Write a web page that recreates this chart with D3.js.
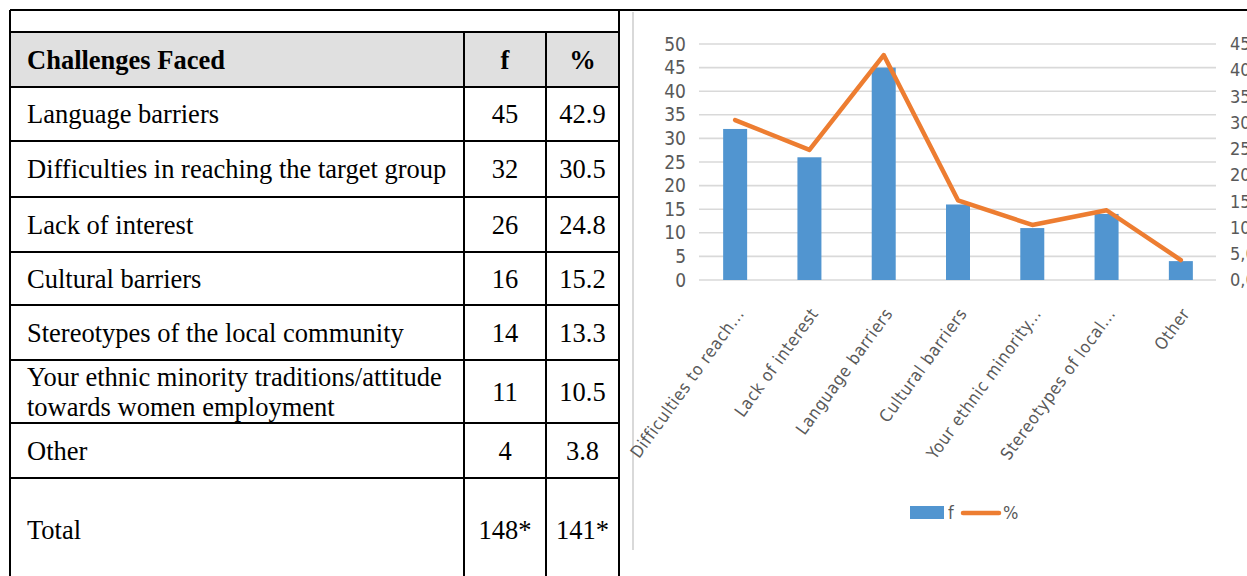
<!DOCTYPE html>
<html>
<head>
<meta charset="utf-8">
<script src="https://cdn.jsdelivr.net/npm/d3@7"></script>
<style>
  html, body { margin: 0; padding: 0; background: #fff; }
  svg { display: block; }
</style>
</head>
<body>
<svg id="root" width="1247" height="576"></svg>
<script>
// ---------- DATA ----------
const tableHeader = ["Challenges Faced", "f", "%"];
const tableLabels = [
  ["Language barriers"],
  ["Difficulties in reaching the target group"],
  ["Lack of interest"],
  ["Cultural barriers"],
  ["Stereotypes of the local community"],
  ["Your ethnic minority traditions/attitude", "towards women employment"],
  ["Other"],
  ["Total"]
];
const tableF = ["45", "32", "26", "16", "14", "11", "4", "148*"];
const tablePct = ["42.9", "30.5", "24.8", "15.2", "13.3", "10.5", "3.8", "141*"];

const categories = [
  "Difficulties to reach...",
  "Lack of interest",
  "Language barriers",
  "Cultural barriers",
  "Your ethnic minority...",
  "Stereotypes of local...",
  "Other"
];
const fValues = [32, 26, 45, 16, 11, 14, 4];
const pctValues = [30.5, 24.8, 42.9, 15.2, 10.5, 13.3, 3.8];
const leftTicks = [0, 5, 10, 15, 20, 25, 30, 35, 40, 45, 50];
const rightTicks = [0, 5, 10, 15, 20, 25, 30, 35, 40, 45];
const rightTickLabels = ["0,0", "5,0", "10,0", "15,0", "20,0", "25,0", "30,0", "35,0", "40,0", "45,0"];
const legendLabels = ["f", "%"];

// ---------- TABLE ----------
const svg = d3.select("#root");
const serif = "'Liberation Serif', 'Times New Roman', serif";
const tfs = 26.5;
const rowEdges = [32, 87, 141, 197, 252, 305, 360, 423, 478, 590];
const colEdges = [10, 464, 546, 619];

const tbl = svg.append("g");
tbl.append("rect").attr("x", colEdges[0]).attr("y", rowEdges[0])
  .attr("width", colEdges[3] - colEdges[0]).attr("height", rowEdges[1] - rowEdges[0])
  .attr("fill", "#e0e0e0");

const lineStyle = s => s.attr("stroke", "#000").attr("stroke-width", 2);
tbl.append("line").attr("x1", 10).attr("x2", 1247).attr("y1", 10).attr("y2", 10).call(lineStyle);
rowEdges.slice(0, -1).forEach(y => {
  tbl.append("line").attr("x1", colEdges[0]).attr("x2", colEdges[3]).attr("y1", y).attr("y2", y).call(lineStyle);
});
tbl.append("line").attr("x1", colEdges[0]).attr("x2", colEdges[0]).attr("y1", 10).attr("y2", 576).call(lineStyle);
tbl.append("line").attr("x1", colEdges[3]).attr("x2", colEdges[3]).attr("y1", 10).attr("y2", 576).call(lineStyle);
[colEdges[1], colEdges[2]].forEach(x => {
  tbl.append("line").attr("x1", x).attr("x2", x).attr("y1", rowEdges[0]).attr("y2", 576).call(lineStyle);
});

const headY = (rowEdges[0] + rowEdges[1]) / 2;
tbl.append("text").attr("x", 27).attr("y", headY).attr("dy", "0.35em")
  .attr("font-family", serif).attr("font-weight", "bold").attr("font-size", tfs).text(tableHeader[0]);
tbl.append("text").attr("x", (colEdges[1] + colEdges[2]) / 2).attr("y", headY).attr("dy", "0.35em")
  .attr("text-anchor", "middle").attr("font-family", serif).attr("font-weight", "bold").attr("font-size", tfs).text(tableHeader[1]);
tbl.append("text").attr("x", (colEdges[2] + colEdges[3]) / 2).attr("y", headY).attr("dy", "0.35em")
  .attr("text-anchor", "middle").attr("font-family", serif).attr("font-weight", "bold").attr("font-size", tfs).text(tableHeader[2]);

tableLabels.forEach((lines, i) => {
  let cy = (rowEdges[i + 1] + rowEdges[i + 2]) / 2;
  if (i === tableLabels.length - 1) cy = 530;
  const lh = 30;
  lines.forEach((ln, j) => {
    const yy = cy + (j - (lines.length - 1) / 2) * lh;
    tbl.append("text").attr("x", 27).attr("y", yy).attr("dy", "0.35em")
      .attr("font-family", serif).attr("font-size", tfs).text(ln);
  });
  tbl.append("text").attr("x", (colEdges[1] + colEdges[2]) / 2).attr("y", cy).attr("dy", "0.35em")
    .attr("text-anchor", "middle").attr("font-family", serif).attr("font-size", tfs).text(tableF[i]);
  tbl.append("text").attr("x", (colEdges[2] + colEdges[3]) / 2).attr("y", cy).attr("dy", "0.35em")
    .attr("text-anchor", "middle").attr("font-family", serif).attr("font-size", tfs).text(tablePct[i]);
});

// ---------- CHART ----------
const sans = "'Liberation Sans Narrow', 'Arial Narrow', 'DejaVu Sans Condensed', sans-serif";
const ch = svg.append("g");
ch.append("line").attr("x1", 633).attr("x2", 633).attr("y1", 12).attr("y2", 550)
  .attr("stroke", "#d9d9d9").attr("stroke-width", 2);

const x = d3.scaleBand().domain(categories).range([698, 1218]).paddingInner(0.677).paddingOuter(0.3385);
const yL = d3.scaleLinear().domain([0, 50]).range([280, 44]);
const yR = d3.scaleLinear().domain([0, 45]).range([280, 44]);

ch.append("g").selectAll("line").data(leftTicks).join("line")
  .attr("x1", 699).attr("x2", 1216)
  .attr("y1", d => yL(d)).attr("y2", d => yL(d))
  .attr("stroke", "#d9d9d9").attr("stroke-width", 1.6);

const axL = ch.append("g").attr("transform", "translate(698,0)")
  .call(d3.axisLeft(yL).tickValues(leftTicks).tickSize(0).tickPadding(12));
axL.select(".domain").remove();
axL.selectAll("text").attr("font-family", sans).attr("font-size", 19).attr("fill", "#595959");

const axR = ch.append("g").attr("transform", "translate(1218,0)")
  .call(d3.axisRight(yR).tickValues(rightTicks).tickSize(0).tickPadding(12)
    .tickFormat((d, i) => rightTickLabels[i]));
axR.select(".domain").remove();
axR.selectAll("text").attr("font-family", sans).attr("font-size", 18).attr("fill", "#595959");

ch.append("g").selectAll("rect").data(fValues).join("rect")
  .attr("x", (d, i) => x(categories[i]))
  .attr("width", x.bandwidth())
  .attr("y", d => yL(d))
  .attr("height", d => yL(0) - yL(d))
  .attr("fill", "#5195d0");

const line = d3.line()
  .x((d, i) => x(categories[i]) + x.bandwidth() / 2)
  .y(d => yR(d));
ch.append("path").datum(pctValues).attr("d", line)
  .attr("fill", "none").attr("stroke", "#ed7d31").attr("stroke-width", 4.5)
  .attr("stroke-linejoin", "round").attr("stroke-linecap", "round");

ch.append("g").selectAll("text").data(categories).join("text")
  .attr("transform", d => `translate(${x(d) + x.bandwidth() / 2 + 5},${310}) rotate(-54)`)
  .attr("text-anchor", "end").attr("dy", "0.35em")
  .attr("font-family", sans).attr("font-size", 17).attr("fill", "#595959")
  .attr("letter-spacing", 0.7)
  .text(d => d);

const lg = ch.append("g");
lg.append("rect").attr("x", 910).attr("y", 506).attr("width", 34).attr("height", 13).attr("fill", "#5195d0");
lg.append("text").attr("x", 948).attr("y", 513).attr("dy", "0.35em")
  .attr("font-family", sans).attr("font-size", 18).attr("fill", "#595959").text(legendLabels[0]);
lg.append("line").attr("x1", 963).attr("x2", 999).attr("y1", 513).attr("y2", 513)
  .attr("stroke", "#ed7d31").attr("stroke-width", 4.5).attr("stroke-linecap", "round");
lg.append("text").attr("x", 1003).attr("y", 513).attr("dy", "0.35em")
  .attr("font-family", sans).attr("font-size", 18).attr("fill", "#595959").text(legendLabels[1]);
</script>
</body>
</html>
